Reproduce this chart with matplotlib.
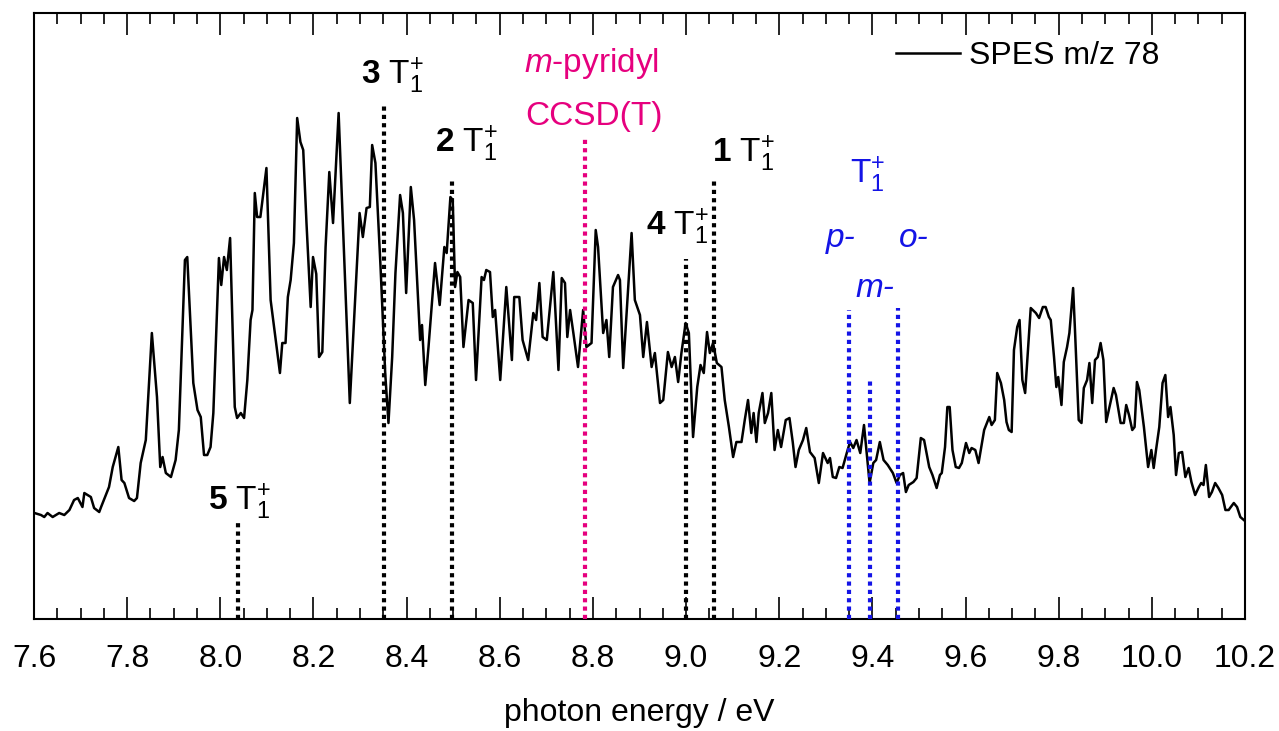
import matplotlib.pyplot as plt
from matplotlib.ticker import MultipleLocator, FormatStrFormatter

plt.rcParams['font.family'] = ['Liberation Sans', 'DejaVu Sans']
plt.rcParams['mathtext.fontset'] = 'custom'
plt.rcParams['mathtext.rm'] = 'Liberation Sans'
plt.rcParams['mathtext.it'] = 'Liberation Sans:italic'
plt.rcParams['mathtext.bf'] = 'Liberation Sans:bold'

# SPES m/z 78 (signal in arbitrary units)
energy = [7.601, 7.615, 7.622, 7.629, 7.640, 7.654, 7.665, 7.676, 7.686, 7.694,
          7.704, 7.708, 7.722, 7.729, 7.740, 7.744, 7.761, 7.769, 7.781, 7.788,
          7.794, 7.804, 7.815, 7.821, 7.829, 7.840, 7.853, 7.864, 7.871, 7.876,
          7.883, 7.894, 7.904, 7.911, 7.924, 7.929, 7.942, 7.951, 7.958, 7.965,
          7.972, 7.979, 7.985, 7.997, 8.002, 8.008, 8.014, 8.021, 8.031, 8.036,
          8.044, 8.051, 8.058, 8.065, 8.069, 8.074, 8.079, 8.086, 8.099, 8.108,
          8.119, 8.128, 8.133, 8.140, 8.145, 8.151, 8.158, 8.165, 8.172, 8.178,
          8.185, 8.194, 8.199, 8.206, 8.212, 8.219, 8.226, 8.234,
          8.242, 8.254, 8.278, 8.299, 8.306, 8.314, 8.321, 8.326, 8.333, 8.344,
          8.354, 8.361, 8.369, 8.376, 8.386, 8.392, 8.399, 8.409, 8.416, 8.429,
          8.433, 8.440, 8.447, 8.461, 8.471, 8.481, 8.486, 8.494, 8.499, 8.504,
          8.509, 8.515, 8.522, 8.533, 8.542, 8.549, 8.561, 8.566, 8.571, 8.579,
          8.585, 8.590, 8.601, 8.614, 8.626, 8.631, 8.642, 8.649, 8.661, 8.672,
          8.678, 8.685, 8.692, 8.701, 8.715, 8.726, 8.733, 8.740, 8.745, 8.751,
          8.758, 8.768, 8.779, 8.786, 8.797, 8.806, 8.811, 8.822, 8.829, 8.835,
          8.843, 8.854,
          8.858, 8.865, 8.883, 8.890, 8.901, 8.908, 8.916, 8.926, 8.933, 8.944,
          8.951, 8.961, 8.969, 8.976, 8.983, 8.990, 8.999, 9.006, 9.015, 9.024,
          9.031, 9.038, 9.045, 9.051, 9.058, 9.066, 9.076, 9.083, 9.092, 9.101,
          9.108, 9.119, 9.126, 9.133, 9.140, 9.145, 9.151, 9.156, 9.164, 9.169,
          9.176, 9.183, 9.190, 9.197, 9.204, 9.214, 9.222, 9.229, 9.235, 9.242,
          9.251, 9.258, 9.266, 9.276, 9.285, 9.294, 9.304, 9.309, 9.315, 9.322,
          9.329, 9.336, 9.345, 9.352, 9.359, 9.366, 9.374, 9.382, 9.394, 9.402,
          9.408, 9.416, 9.424, 9.433, 9.444, 9.452, 9.459, 9.466, 9.472, 9.478,
          9.488, 9.495, 9.504, 9.511, 9.522,
          9.529, 9.538, 9.545, 9.549, 9.556, 9.561, 9.566, 9.572, 9.579, 9.586,
          9.592, 9.601, 9.608, 9.613, 9.621, 9.628, 9.640, 9.651, 9.656, 9.663,
          9.668, 9.676, 9.683, 9.688, 9.693, 9.699, 9.704, 9.711, 9.716, 9.722,
          9.728, 9.740, 9.751, 9.758, 9.766, 9.772, 9.779, 9.783, 9.790, 9.795,
          9.799, 9.806, 9.811, 9.818, 9.823, 9.831, 9.835, 9.843, 9.849, 9.854,
          9.861, 9.866, 9.872, 9.878, 9.884, 9.890, 9.896, 9.902, 9.909, 9.918,
          9.923, 9.933, 9.940, 9.945, 9.951, 9.958, 9.963, 9.968, 9.973, 9.983,
          9.992, 9.999, 10.004, 10.009, 10.016, 10.023, 10.029, 10.035, 10.040, 10.047,
          10.052, 10.058, 10.065, 10.072, 10.079, 10.085, 10.093, 10.101, 10.106, 10.111,
          10.116, 10.123, 10.129, 10.136, 10.143, 10.151, 10.158, 10.165, 10.168, 10.176,
          10.183, 10.190, 10.200]
signal = [106, 104, 102, 106, 102, 106, 104, 109, 119, 121,
          112, 126, 122, 111, 107, 112, 132, 152, 172, 139,
          136, 121, 118, 121, 156, 179, 286, 222, 152, 162,
          146, 142, 159, 189, 359, 362, 236, 209, 202, 164,
          164, 172, 206, 361, 334, 362, 349, 381, 212, 201,
          206, 201, 239, 299, 309, 426, 402, 402, 451, 319,
          279, 246, 276, 276, 322, 339, 376, 501, 477, 469,
          396, 312, 362, 345, 262, 267, 372, 447,
          396, 506, 216, 406, 382, 411, 412, 474, 456, 352,
          246, 196, 262, 346, 424, 406, 326, 432, 399, 279,
          294, 234, 272, 356, 314, 372, 366, 422, 419, 332,
          347, 342, 272, 319, 316, 239, 342, 339, 349, 347,
          302, 309, 239, 332, 259, 322, 322, 279, 259, 306,
          299, 336, 282, 279, 347, 249, 341, 336, 282, 309,
          286, 252, 309, 272, 276, 389, 372, 286, 299, 262,
          332, 344,
          339, 251, 386, 319, 304, 262, 297, 252, 266, 216,
          219, 267, 252, 262, 237, 266, 296, 286, 182, 232,
          254, 246, 287, 266, 276, 256, 252, 219, 192, 162,
          177, 177, 199, 219, 186, 206, 177, 206, 226, 196,
          206, 226, 169, 189, 172, 199, 201, 177, 152, 169,
          179, 191, 167, 161, 136, 166, 156, 161, 142, 141,
          152, 151, 166, 177, 171, 179, 166, 194, 136, 156,
          159, 177, 159, 154, 146, 136, 144, 146, 127, 134,
          137, 141, 181, 179, 152,
          144, 131, 144, 146, 172, 212, 212, 169, 152, 151,
          156, 176, 166, 171, 169, 156, 189, 202, 194, 199,
          246, 236, 219, 197, 189, 187, 269, 292, 299, 239,
          226, 311, 306, 301, 312, 312, 302, 299, 262, 232,
          242, 214, 257, 272, 286, 331, 289, 199, 196, 231,
          239, 256, 216, 259, 262, 276, 259, 197, 212, 231,
          224, 196, 196, 214, 204, 189, 192, 237, 229, 192,
          152, 169, 151, 169, 192, 236, 244, 202, 212, 184,
          144, 166, 167, 142, 151, 137, 124, 132, 136, 134,
          154, 122, 127, 136, 131, 124, 109, 109, 111, 116,
          112, 102, 98]

# calculated T1+ positions of the isomers 1-5
calc_labels = ['5', '3', '2', '4', '1']
calc_energy = [8.037, 8.352, 8.498, 9.000, 9.059]
calc_height = [99, 514, 441, 360, 441]
calc_text_x = [8.041, 8.370, 8.529, 8.982, 9.124]
calc_text_y = [109, 535, 467, 384, 457]

# m-pyridyl CCSD(T)
ccsd_energy = 8.783
ccsd_height = 481

# pyridyl isomers T1+
iso_labels = ['p-', 'm-', 'o-']
iso_energy = [9.349, 9.394, 9.456]
iso_height = [309, 238, 311]
iso_text_x = [9.331, 9.406, 9.488]
iso_text_y = [372, 322, 372]

pink = '#E6007E'
blue = '#1414E6'
fs = 23
dots = (0, (1.0, 1.0))

fig = plt.figure(figsize=(12.79, 7.31), dpi=100)
ax = fig.add_axes([0.0266, 0.1532, 0.9468, 0.829])

ax.plot(energy, signal, color='black', lw=1.8, label='SPES m/z 78', zorder=2)

for e, h in zip(calc_energy, calc_height):
    ax.plot([e, e], [0, h], color='black', lw=3, ls=dots, zorder=3)
for lab, tx, ty in zip(calc_labels, calc_text_x, calc_text_y):
    ax.text(tx, ty, r'$\mathbf{%s}\ \mathrm{T}_{1}^{+}$' % lab, fontsize=fs + 1,
            ha='center', va='baseline')

ax.plot([ccsd_energy, ccsd_energy], [0, ccsd_height], color=pink, lw=3, ls=dots, zorder=3)
ax.text(8.796, 547, r'$\mathit{m}$-pyridyl', color=pink, fontsize=fs + 1,
        ha='center', va='baseline')
ax.text(8.802, 494, 'CCSD(T)', color=pink, fontsize=fs + 1, ha='center', va='baseline')

for e, h in zip(iso_energy, iso_height):
    ax.plot([e, e], [0, h], color=blue, lw=3, ls=dots, zorder=3)
for lab, tx, ty in zip(iso_labels, iso_text_x, iso_text_y):
    ax.text(tx, ty, lab, color=blue, fontsize=fs + 1, style='italic',
            ha='center', va='baseline')
ax.text(9.389, 436, r'$\mathrm{T}_{1}^{+}$', color=blue, fontsize=fs + 1,
        ha='center', va='baseline')

ax.set_xlim(7.6, 10.2)
ax.set_ylim(0, 606)
ax.set_yticks([])
ax.xaxis.set_major_locator(MultipleLocator(0.2))
ax.xaxis.set_minor_locator(MultipleLocator(0.05))
ax.xaxis.set_major_formatter(FormatStrFormatter('%.1f'))
ax.tick_params(axis='x', which='both', direction='in', top=True, bottom=True,
               width=1.2, labelsize=fs, pad=18)
ax.tick_params(axis='x', which='major', length=16)
ax.tick_params(axis='x', which='minor', length=8)
for s in ax.spines.values():
    s.set_linewidth(1.5)

ax.set_xlabel('photon energy / eV', fontsize=fs, labelpad=17)
ax.legend(loc='upper right', bbox_to_anchor=(0.94, 0.975), frameon=False,
          fontsize=fs, handlelength=2.0, handletextpad=0.3, borderaxespad=0)

fig.savefig('out.png', dpi=100)
